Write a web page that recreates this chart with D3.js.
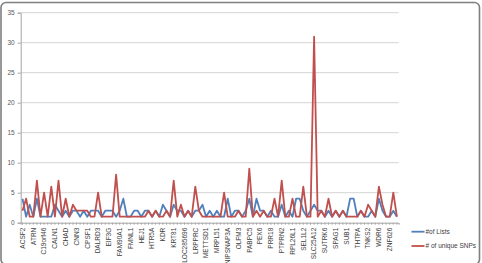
<!DOCTYPE html>
<html><head><meta charset="utf-8">
<script src="https://cdn.jsdelivr.net/npm/d3@7"></script>
<style>body{margin:0;background:#fff}svg{display:block}text{font-family:"Liberation Sans",Arial,sans-serif}</style>
</head><body><svg id="c" width="482" height="263"></svg>
<script>
const tickLabels = ["ACSF2","ATRN","C19orf46","CALN1","CHAD","CNN3","CPSF1","DALRD3","EIF3G","FAM90A1","FMNL1","HEJ1","HTR5A","KDR","KRT81","LOC285696","LRPPRC","METTSD1","MRPL51","NIPSNAP3A","OLFM3","PABPC5","PEX6","PRR18","PTPRN2","RPL26L1","SEL1L2","SLC25A12","SUTRK6","SPAG1","SUB1","THTPA","TNKS2","WDR6","ZNF626"];
const nCategories = 105;
const labelEvery = 3;
const yTicks = [0,5,10,15,20,25,30,35];
const seriesNames = ["#of Lists","# of unique SNPs"];
const listsValues = [4,1,3,1,4,1,1,1,1,3,2,1,2,1,2,2,1,2,1,2,2,2,1,2,2,2,1,2,4,1,1,2,2,1,2,2,1,2,1,3,2,1,3,2,2,1,2,1,2,2,3,1,2,1,2,1,1,4,1,2,2,1,2,4,1,4,2,2,1,2,1,1,3,1,2,1,4,4,2,1,2,3,2,2,1,2,1,2,1,2,1,4,4,1,2,1,1,2,1,4,2,1,1,2,1];
const snpValues = [2,4,1,1,7,1,5,1,6,1,7,1,4,1,3,2,2,2,2,1,1,5,1,1,1,1,8,1,1,1,1,1,1,1,1,2,1,2,1,1,2,1,7,1,3,1,2,1,6,2,1,1,1,1,1,1,5,1,1,1,2,1,1,9,1,2,1,2,1,1,4,1,7,1,1,4,1,1,6,1,1,31,1,2,1,4,1,2,1,2,1,1,1,1,2,1,3,2,1,6,3,1,1,5,1];
const colors = ["#4F81BD","#C0504D"];

const svg = d3.select("#c");
svg.append("rect").attr("x",1).attr("y",2.5).attr("width",478.5).attr("height",262).attr("rx",5)
  .attr("fill","#fff").attr("stroke","#7f7f7f").attr("stroke-width",1.6);

const mLeft = 20.7, mRight = 398.7, mTop = 12.7, mBottom = 222.7;
const x = d3.scaleBand().domain(d3.range(nCategories)).range([mLeft,mRight]);
const cx = i => x(i) + x.bandwidth()/2;
const y = d3.scaleLinear().domain([0,35]).range([mBottom,mTop]);

svg.append("g").selectAll("line").data(yTicks.filter(d=>d>0)).join("line")
  .attr("x1",mLeft).attr("x2",mRight).attr("y1",d=>y(d)).attr("y2",d=>y(d))
  .attr("stroke","#d4d4d4").attr("stroke-width",1);

const ya = svg.append("g").attr("transform",`translate(${mLeft},0)`)
  .call(d3.axisLeft(y).tickValues(yTicks).tickSize(3).tickPadding(3));
ya.select(".domain").attr("stroke","#a6a6a6");
ya.selectAll(".tick line").attr("stroke","#a6a6a6");
ya.selectAll("text").attr("font-size",6.5).attr("fill","#595959");

const xa = svg.append("g").attr("transform",`translate(0,${mBottom})`)
  .call(d3.axisBottom(x).tickValues(d3.range(nCategories)).tickSize(2).tickFormat(i => i % labelEvery === 0 ? tickLabels[i/labelEvery] : ""));
xa.select(".domain").attr("stroke","#a6a6a6");
xa.selectAll(".tick line").attr("stroke","#a6a6a6");
xa.selectAll("text").attr("font-size",6.5).attr("fill","#404040")
  .attr("transform","rotate(-90)").attr("text-anchor","end").attr("y",0).attr("x",-5).attr("dy","0.35em");

const line = d3.line().x((d,i)=>cx(i)).y(d=>y(d));
[listsValues, snpValues].forEach((vals,k)=>{
  svg.append("path").datum(vals).attr("d",line).attr("fill","none")
    .attr("stroke",colors[k]).attr("stroke-width",1.8).attr("stroke-linejoin","round");
});

const lg = svg.append("g");
seriesNames.forEach((n,k)=>{
  const ly = 231.7 + k*14.3;
  lg.append("line").attr("x1",411.5).attr("x2",424.5).attr("y1",ly).attr("y2",ly).attr("stroke",colors[k]).attr("stroke-width",1.8);
  lg.append("text").attr("x",425.5).attr("y",ly).attr("dy","0.35em").attr("font-size",6.5).attr("fill","#404040").text(n);
});
</script></body></html>
